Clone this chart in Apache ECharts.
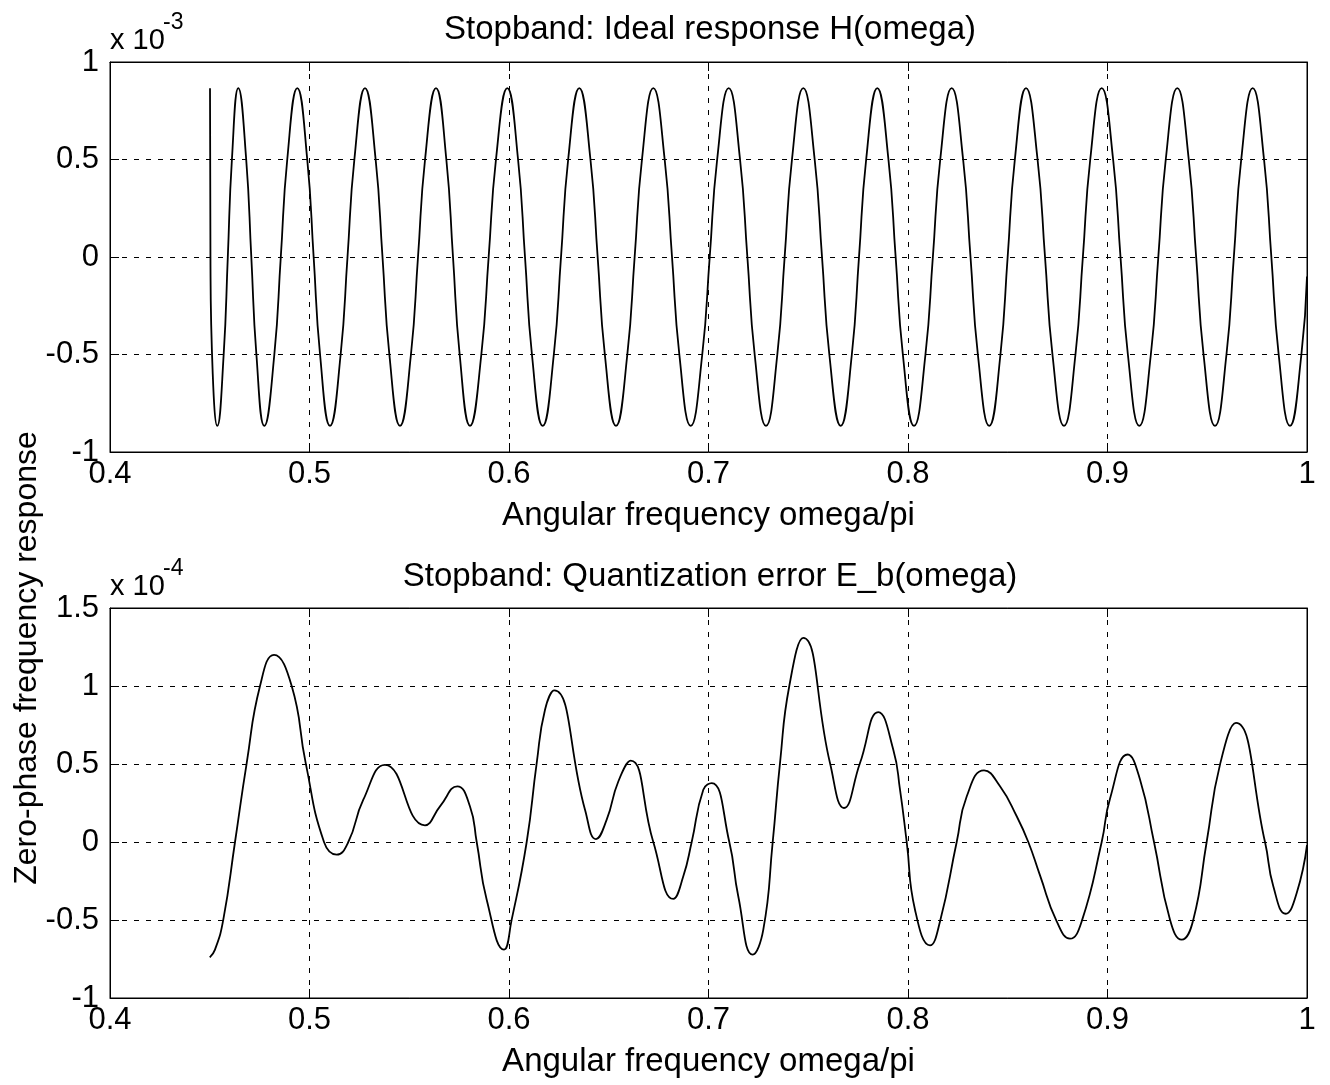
<!DOCTYPE html>
<html>
<head>
<meta charset="utf-8">
<script src="https://cdn.jsdelivr.net/npm/echarts@6/dist/echarts.min.js"></script>
<style>
  html, body { margin: 0; padding: 0; background: #fff; }
  #chartmain { width: 1330px; height: 1085px; }
</style>
</head>
<body>
<div id="chartmain"></div>
<script>
// x ticks (omega/pi)
var xTicks = [0.4, 0.5, 0.6, 0.7, 0.8, 0.9, 1];

// top plot: ideal response H(omega), values in units of 1e-3
var omegaTop = [
  0.45013, 0.45035, 0.45150, 0.45378,
  0.45698, 0.45905, 0.46111, 0.46431, 0.46827, 0.47083, 0.47338, 0.47734,
  0.48237, 0.48561, 0.48885, 0.49388, 0.49887, 0.50208, 0.50529, 0.51028,
  0.51561, 0.51905, 0.52249, 0.52782, 0.53315, 0.53659, 0.54003, 0.54536,
  0.55085, 0.55439, 0.55792, 0.56341, 0.56859, 0.57193, 0.57527, 0.58045,
  0.58613, 0.58980, 0.59347, 0.59915, 0.60454, 0.60802, 0.61150, 0.61689,
  0.62247, 0.62607, 0.62966, 0.63524, 0.64083, 0.64444, 0.64804, 0.65363,
  0.65931, 0.66298, 0.66665, 0.67233, 0.67803, 0.68171, 0.68538, 0.69108,
  0.69687, 0.70061, 0.70434, 0.71013, 0.71581, 0.71948, 0.72314, 0.72882,
  0.73450, 0.73817, 0.74184, 0.74752, 0.75322, 0.75690, 0.76057, 0.76627,
  0.77185, 0.77544, 0.77903, 0.78461, 0.79020, 0.79381, 0.79742, 0.80301,
  0.80875, 0.81246, 0.81616, 0.82190, 0.82763, 0.83133, 0.83502, 0.84075,
  0.84634, 0.84995, 0.85356, 0.85915, 0.86494, 0.86868, 0.87241, 0.87820,
  0.88394, 0.88765, 0.89135, 0.89709, 0.90282, 0.90652, 0.91021, 0.91594,
  0.92173, 0.92547, 0.92920, 0.93499, 0.94073, 0.94444, 0.94814, 0.95388,
  0.95963, 0.96333, 0.96703, 0.97278, 0.97846, 0.98213, 0.98580, 0.99148,
  0.99719, 1.00000
];
var hTop = [
  0.866, 0, -0.6, -0.866,
  -0.5, 0, 0.5, 0.866, 0.5, 0, -0.5, -0.866,
  -0.5, 0, 0.5, 0.866, 0.5, 0, -0.5, -0.866,
  -0.5, 0, 0.5, 0.866, 0.5, 0, -0.5, -0.866,
  -0.5, 0, 0.5, 0.866, 0.5, 0, -0.5, -0.866,
  -0.5, 0, 0.5, 0.866, 0.5, 0, -0.5, -0.866,
  -0.5, 0, 0.5, 0.866, 0.5, 0, -0.5, -0.866,
  -0.5, 0, 0.5, 0.866, 0.5, 0, -0.5, -0.866,
  -0.5, 0, 0.5, 0.866, 0.5, 0, -0.5, -0.866,
  -0.5, 0, 0.5, 0.866, 0.5, 0, -0.5, -0.866,
  -0.5, 0, 0.5, 0.866, 0.5, 0, -0.5, -0.866,
  -0.5, 0, 0.5, 0.866, 0.5, 0, -0.5, -0.866,
  -0.5, 0, 0.5, 0.866, 0.5, 0, -0.5, -0.866,
  -0.5, 0, 0.5, 0.866, 0.5, 0, -0.5, -0.866,
  -0.5, 0, 0.5, 0.866, 0.5, 0, -0.5, -0.866,
  -0.5, 0, 0.5, 0.866, 0.5, 0, -0.5, -0.866,
  -0.5, -0.1
];
var yTicksTop = [-1, -0.5, 0, 0.5, 1];

// bottom plot: quantization error E_b(omega), values in units of 1e-4
var omegaBot = [
  0.45000, 0.45263, 0.45679, 0.46266, 0.46852, 0.47519, 0.48221, 0.49108,
  0.49810, 0.50727, 0.51363, 0.51945, 0.52697, 0.53784, 0.55789,
  0.56541, 0.57409, 0.58045, 0.58381, 0.58882, 0.59750, 0.60135,
  0.60887, 0.61388, 0.61805, 0.62271, 0.63810, 0.64361,
  0.64897, 0.65479, 0.66100, 0.67233, 0.68236, 0.68737,
  0.69158, 0.69739, 0.70160, 0.71043, 0.71494, 0.72216, 0.72747,
  0.73218, 0.73584, 0.74050, 0.74752, 0.76090, 0.76792, 0.77594,
  0.78511, 0.79263, 0.79599, 0.79935, 0.80351, 0.81103, 0.81604, 0.82441,
  0.82942, 0.83810, 0.84612, 0.85449, 0.86030, 0.86617, 0.87454, 0.88120,
  0.88707, 0.89709, 0.90125, 0.91012, 0.91629, 0.92331, 0.93133, 0.93719,
  0.94301, 0.94970, 0.95639, 0.96441, 0.97895, 0.98311, 0.98932,
  0.99484, 1.00000
];
var errBot = [
  -0.74, -0.69, -0.498, 0, 0.506, 1.0, 1.2, 1.0,
  0.506, 0, -0.081, 0, 0.271, 0.495, 0.107,
  0.228, 0.357, 0.228, 0, -0.37, -0.69, -0.498,
  0, 0.506, 0.848, 0.972, 0.207, 0.019,
  0.143, 0.388, 0.521, 0, -0.365, -0.22,
  0, 0.335, 0.378, 0, -0.349, -0.722, -0.562,
  0, 0.506, 1.0, 1.308, 0.506, 0.218, 0.506,
  0.833, 0.592, 0.335, 0, -0.434, -0.663, -0.509, 0,
  0.292, 0.459, 0.357, 0.165, 0, -0.214, -0.509, -0.62,
  -0.509, 0, 0.278, 0.561, 0.4, 0, -0.498, -0.626,
  -0.498, 0, 0.496, 0.763, 0, -0.284, -0.46,
  -0.327, -0.02
];
var yTicksBot = [-1, -0.5, 0, 0.5, 1, 1.5];

var FONT = '"Liberation Sans", Arial, Helvetica, sans-serif';

function pairs(xs, ys) {
  var out = [];
  for (var i = 0; i < xs.length; i++) out.push([xs[i], ys[i]]);
  return out;
}

var gridLine = { show: true, lineStyle: { color: '#000', width: 1, type: [5, 7] } };

function xAxisMain(gi) {
  return {
    type: 'value', gridIndex: gi, position: 'bottom',
    min: xTicks[0], max: xTicks[xTicks.length - 1], interval: 0.1,
    axisLine: { show: true, onZero: false, lineStyle: { color: '#000', width: 1 } },
    axisTick: { show: true, inside: true, length: 9, lineStyle: { color: '#000' } },
    axisLabel: { color: '#000', fontSize: 31, fontFamily: FONT, margin: 7 },
    splitLine: gridLine,
    name: 'Angular frequency omega/pi', nameLocation: 'middle', nameGap: 47,
    nameTextStyle: { color: '#000', fontSize: 33, fontFamily: FONT }
  };
}
function xAxisMirror(gi) {
  return {
    type: 'value', gridIndex: gi, position: 'top',
    min: xTicks[0], max: xTicks[xTicks.length - 1], interval: 0.1,
    axisLine: { show: true, onZero: false, lineStyle: { color: '#000', width: 1 } },
    axisTick: { show: true, inside: true, length: 9, lineStyle: { color: '#000' } },
    axisLabel: { show: false }, splitLine: { show: false }
  };
}
function yAxisMain(gi, ticks) {
  return {
    type: 'value', gridIndex: gi, position: 'left',
    min: ticks[0], max: ticks[ticks.length - 1], interval: 0.5,
    axisLine: { show: true, onZero: false, lineStyle: { color: '#000', width: 1 } },
    axisTick: { show: true, inside: true, length: 9, lineStyle: { color: '#000' } },
    axisLabel: { color: '#000', fontSize: 31, fontFamily: FONT, margin: 11 },
    splitLine: gridLine
  };
}
function yAxisMirror(gi, ticks) {
  return {
    type: 'value', gridIndex: gi, position: 'right',
    min: ticks[0], max: ticks[ticks.length - 1], interval: 0.5,
    axisLine: { show: true, onZero: false, lineStyle: { color: '#000', width: 1 } },
    axisTick: { show: true, inside: true, length: 9, lineStyle: { color: '#000' } },
    axisLabel: { show: false }, splitLine: { show: false }
  };
}

function txt(x, y, s, size, extra) {
  var st = { text: s, fill: '#000', font: size + 'px ' + FONT, textAlign: 'left', textVerticalAlign: 'middle' };
  for (var k in extra) st[k] = extra[k];
  return { type: 'text', x: x, y: y, style: st };
}

var chart = echarts.init(document.getElementById('chartmain'));
var option = {
  backgroundColor: '#fff',
  animation: false,
  grid: [
    { left: 110, top: 62, width: 1197, height: 390, show: true, borderColor: '#000', borderWidth: 1 },
    { left: 110, top: 608, width: 1197, height: 390, show: true, borderColor: '#000', borderWidth: 1 }
  ],
  xAxis: [xAxisMain(0), xAxisMirror(0), xAxisMain(1), xAxisMirror(1)],
  yAxis: [yAxisMain(0, yTicksTop), yAxisMirror(0, yTicksTop), yAxisMain(1, yTicksBot), yAxisMirror(1, yTicksBot)],
  series: [
    {
      type: 'line', xAxisIndex: 0, yAxisIndex: 0,
      data: pairs(omegaTop, hTop),
      showSymbol: false, smooth: 0.5,
      lineStyle: { color: '#000', width: 1.8 }
    },
    {
      type: 'line', xAxisIndex: 2, yAxisIndex: 2,
      data: pairs(omegaBot, errBot),
      showSymbol: false, smooth: 0.5,
      lineStyle: { color: '#000', width: 1.8 }
    }
  ],
  graphic: [
    txt(710, 30, 'Stopband: Ideal response H(omega)', 33, { textAlign: 'center' }),
    txt(710, 577, 'Stopband: Quantization error E_b(omega)', 33, { textAlign: 'center' }),
    txt(110, 41, 'x 10', 29),
    txt(163, 23, '-3', 23),
    txt(110, 587, 'x 10', 29),
    txt(163, 569, '-4', 23),
    {
      type: 'text', x: 27, y: 658, rotation: Math.PI / 2,
      style: { text: 'Zero-phase frequency response', fill: '#000', font: '32px ' + FONT, textAlign: 'center', textVerticalAlign: 'middle' }
    }
  ]
};
chart.setOption(option);
</script>
</body>
</html>
